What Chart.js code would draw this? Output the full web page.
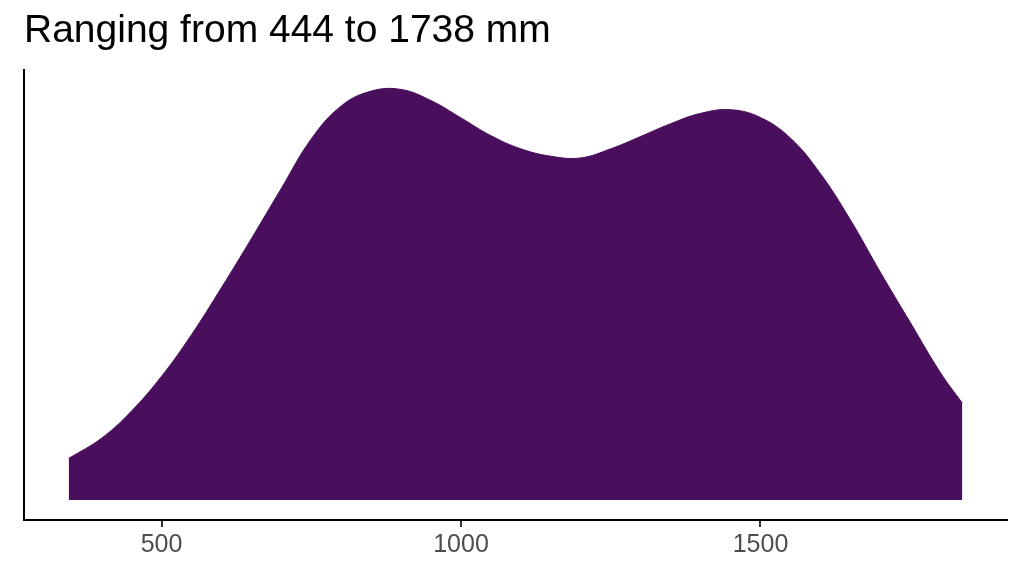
<!DOCTYPE html>
<html>
<head>
<meta charset="utf-8">
<script src="https://cdn.jsdelivr.net/npm/chart.js@4"></script>
<style>
  html, body { margin: 0; padding: 0; background: #ffffff; }
  #wrap { width: 1024px; height: 576px; }
</style>
</head>
<body>
<div id="wrap"><canvas id="myChart" width="1024" height="576"></canvas></div>
<script>
// valores (densidade relativa, pico = 1)
const titulo = 'Ranging from 444 to 1738 mm';
const alturas = [345, 400, 450, 500, 550, 600, 650, 700, 750, 800, 850, 900, 950, 1000,
                 1050, 1100, 1150, 1200, 1250, 1300, 1350, 1400, 1450, 1500, 1550, 1600,
                 1650, 1700, 1750, 1800, 1837];
const densidade = [0.101, 0.150, 0.216, 0.300, 0.401, 0.515, 0.634, 0.756, 0.876, 0.956, 0.992, 0.996, 0.969, 0.927,
                   0.884, 0.852, 0.834, 0.830, 0.852, 0.882, 0.913, 0.938, 0.947, 0.928, 0.878, 0.792,
                   0.680, 0.553, 0.431, 0.310, 0.235];
const xTicks = [500, 1000, 1500];

const pontos = alturas.map((x, i) => ({ x: x, y: densidade[i] }));

const ctx = document.getElementById('myChart');
const myChart = new Chart(ctx, {
    type: 'line',
    data: {
        datasets: [{
            data: pontos,
            backgroundColor: '#4a0f5c',
            borderColor: '#4a0f5c',
            borderWidth: 1,
            pointRadius: 0,
            tension: 0.4,
            fill: 'origin'
        }]
    },
    options: {
        responsive: false,
        animation: false,
        layout: { padding: { left: 24, right: 17, top: 0, bottom: 0 } },
        plugins: {
            legend: { display: false },
            tooltip: { enabled: false },
            title: {
                display: true,
                text: titulo,
                align: 'start',
                color: '#000000',
                font: { family: 'Liberation Sans, Arial, sans-serif', size: 39, weight: 'normal', lineHeight: 1.2 },
                padding: { top: 8, bottom: 15 }
            }
        },
        scales: {
            x: {
                type: 'linear',
                min: 270.4,
                max: 1911.6,
                afterBuildTicks: (s) => { s.ticks = xTicks.map(v => ({ value: v })); },
                afterFit: (s) => { s.height = 56; },
                grid: { display: true, drawOnChartArea: false, drawTicks: true, tickLength: 7, color: '#333333', lineWidth: 2 },
                border: { display: true, color: '#000000', width: 2 },
                ticks: {
                    color: '#4d4d4d',
                    padding: 3,
                    maxRotation: 0,
                    font: { family: 'Liberation Sans, Arial, sans-serif', size: 25 },
                    callback: (v) => String(v)
                }
            },
            y: {
                type: 'linear',
                min: -0.0485,
                max: 1.0437,
                afterFit: (s) => { s.width = 0; },
                grid: { display: false },
                border: { display: true, color: '#000000', width: 2 },
                ticks: { display: false }
            }
        }
    }
});
</script>
</body>
</html>
